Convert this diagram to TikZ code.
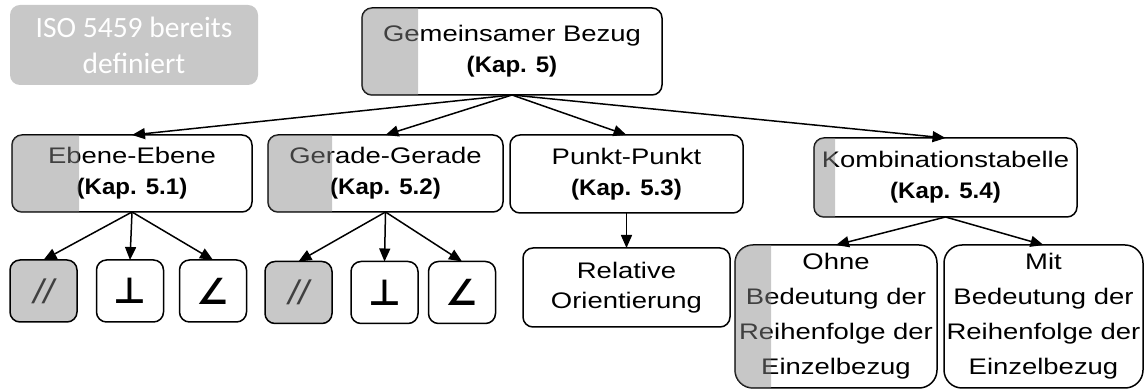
\documentclass[tikz,border=0pt]{standalone}
\usepackage{fontspec}
\setmainfont[FakeStretch=1.22]{Liberation Sans}
\newfontfamily\kapfont[FakeStretch=1.07]{Liberation Sans}
\newfontfamily\isofont{Carlito}
\newfontfamily\zeichenfont{DejaVu Sans}
\usetikzlibrary{arrows.meta}
\definecolor{isograu}{RGB}{200,200,200}
\definecolor{schleier}{RGB}{137,137,137}
\tikzset{
  kasten/.style={draw,line width=1.5pt,rounded corners=10pt,fill=white,align=center,inner sep=0pt,outer sep=0pt,font=\fontsize{22.5}{31}\selectfont},
  zeichen/.style={kasten,minimum width=67pt,minimum height=62pt,font=\zeichenfont\bfseries\fontsize{36}{36}\selectfont},
  pfeil/.style={line width=1.5pt,-{Triangle[length=13pt,width=11pt]}},
}
\newcommand{\kap}[1]{{\kapfont\bfseries (Kap. #1)}}
\newcommand{\streifen}[3]{%
  \begin{scope}
    \clip ([xshift=-2pt,yshift=-2pt]#1.south west) rectangle ([xshift=#2,yshift=2pt]#1.north west);
    \fill[schleier,fill opacity=0.47,rounded corners=#3] (#1.south west) rectangle (#1.north east);
  \end{scope}}

\begin{document}
\begin{tikzpicture}[x=1pt,y=1pt]
  \useasboundingbox (0,0) rectangle (1145,390);
  \node[fill=isograu,rounded corners=10pt,minimum width=248pt,minimum height=80pt,align=center,text=white,font=\isofont\fontsize{29.5}{36}\selectfont] (iso) at (134,345) {ISO 5459 bereits\\definiert};
  \node[kasten,minimum width=300pt,minimum height=87pt] (bezug) at (512,338.5) {Gemeinsamer Bezug\\\kap{5}};
  \node[kasten,minimum width=240pt,minimum height=77pt] (ebene) at (132,216.5) {Ebene-Ebene\\\kap{5.1}};
  \node[kasten,minimum width=235pt,minimum height=77pt] (gerade) at (385.5,216.5) {Gerade-Gerade\\\kap{5.2}};
  \node[kasten,minimum width=233pt,minimum height=78pt] (punkt) at (626.5,216) {Punkt-Punkt\\\kap{5.3}};
  \node[kasten,minimum width=263pt,minimum height=79pt] (kombi) at (945.5,212.5) {Kombinationstabelle\\\kap{5.4}};
  \node[zeichen,fill=isograu,text=black!75] (ebpar) at (43.5,99) {\kapfont\mdseries\itshape\fontsize{34}{34}\selectfont //};
  \node[zeichen] (ebsenk) at (130,99) {⊥};
  \node[zeichen] (ebwinkel) at (213,99) {∠};
  \node[zeichen,fill=isograu,text=black!75] (gepar) at (298.5,97.5) {\kapfont\mdseries\itshape\fontsize{34}{34}\selectfont //};
  \node[zeichen] (gesenk) at (384.5,97.5) {⊥};
  \node[zeichen] (gewinkel) at (462,97.5) {∠};
  \node[kasten,minimum width=207pt,minimum height=79pt,font=\fontsize{22.5}{30}\selectfont] (relativ) at (626.5,102.5) {Relative\\Orientierung};
  \node[kasten,rounded corners=18pt,minimum width=202pt,minimum height=143pt,font=\fontsize{22.5}{35}\selectfont] (ohne) at (836,73.5) {Ohne\\Bedeutung der\\Reihenfolge der\\Einzelbezug};
  \node[kasten,rounded corners=18pt,minimum width=199pt,minimum height=143pt,font=\fontsize{22.5}{35}\selectfont] (mit) at (1043.5,73.5) {Mit\\Bedeutung der\\Reihenfolge der\\Einzelbezug};
  \streifen{bezug}{56pt}{10pt}
  \streifen{ebene}{67pt}{10pt}
  \streifen{gerade}{64pt}{10pt}
  \streifen{kombi}{21pt}{10pt}
  \streifen{ohne}{36pt}{18pt}
  \foreach \ziel in {ebene,gerade,punkt,kombi}
    \draw[pfeil] (bezug.south) -- (\ziel.north);
  \foreach \ziel in {ebpar,ebsenk,ebwinkel}
    \draw[pfeil] (ebene.south) -- (\ziel.north);
  \foreach \ziel in {gepar,gesenk,gewinkel}
    \draw[pfeil] (gerade.south) -- (\ziel.north);
  \draw[pfeil] (punkt.south) -- (relativ.north);
  \foreach \ziel in {ohne,mit}
    \draw[pfeil] (kombi.south) -- (\ziel.north);
\end{tikzpicture}
\end{document}
